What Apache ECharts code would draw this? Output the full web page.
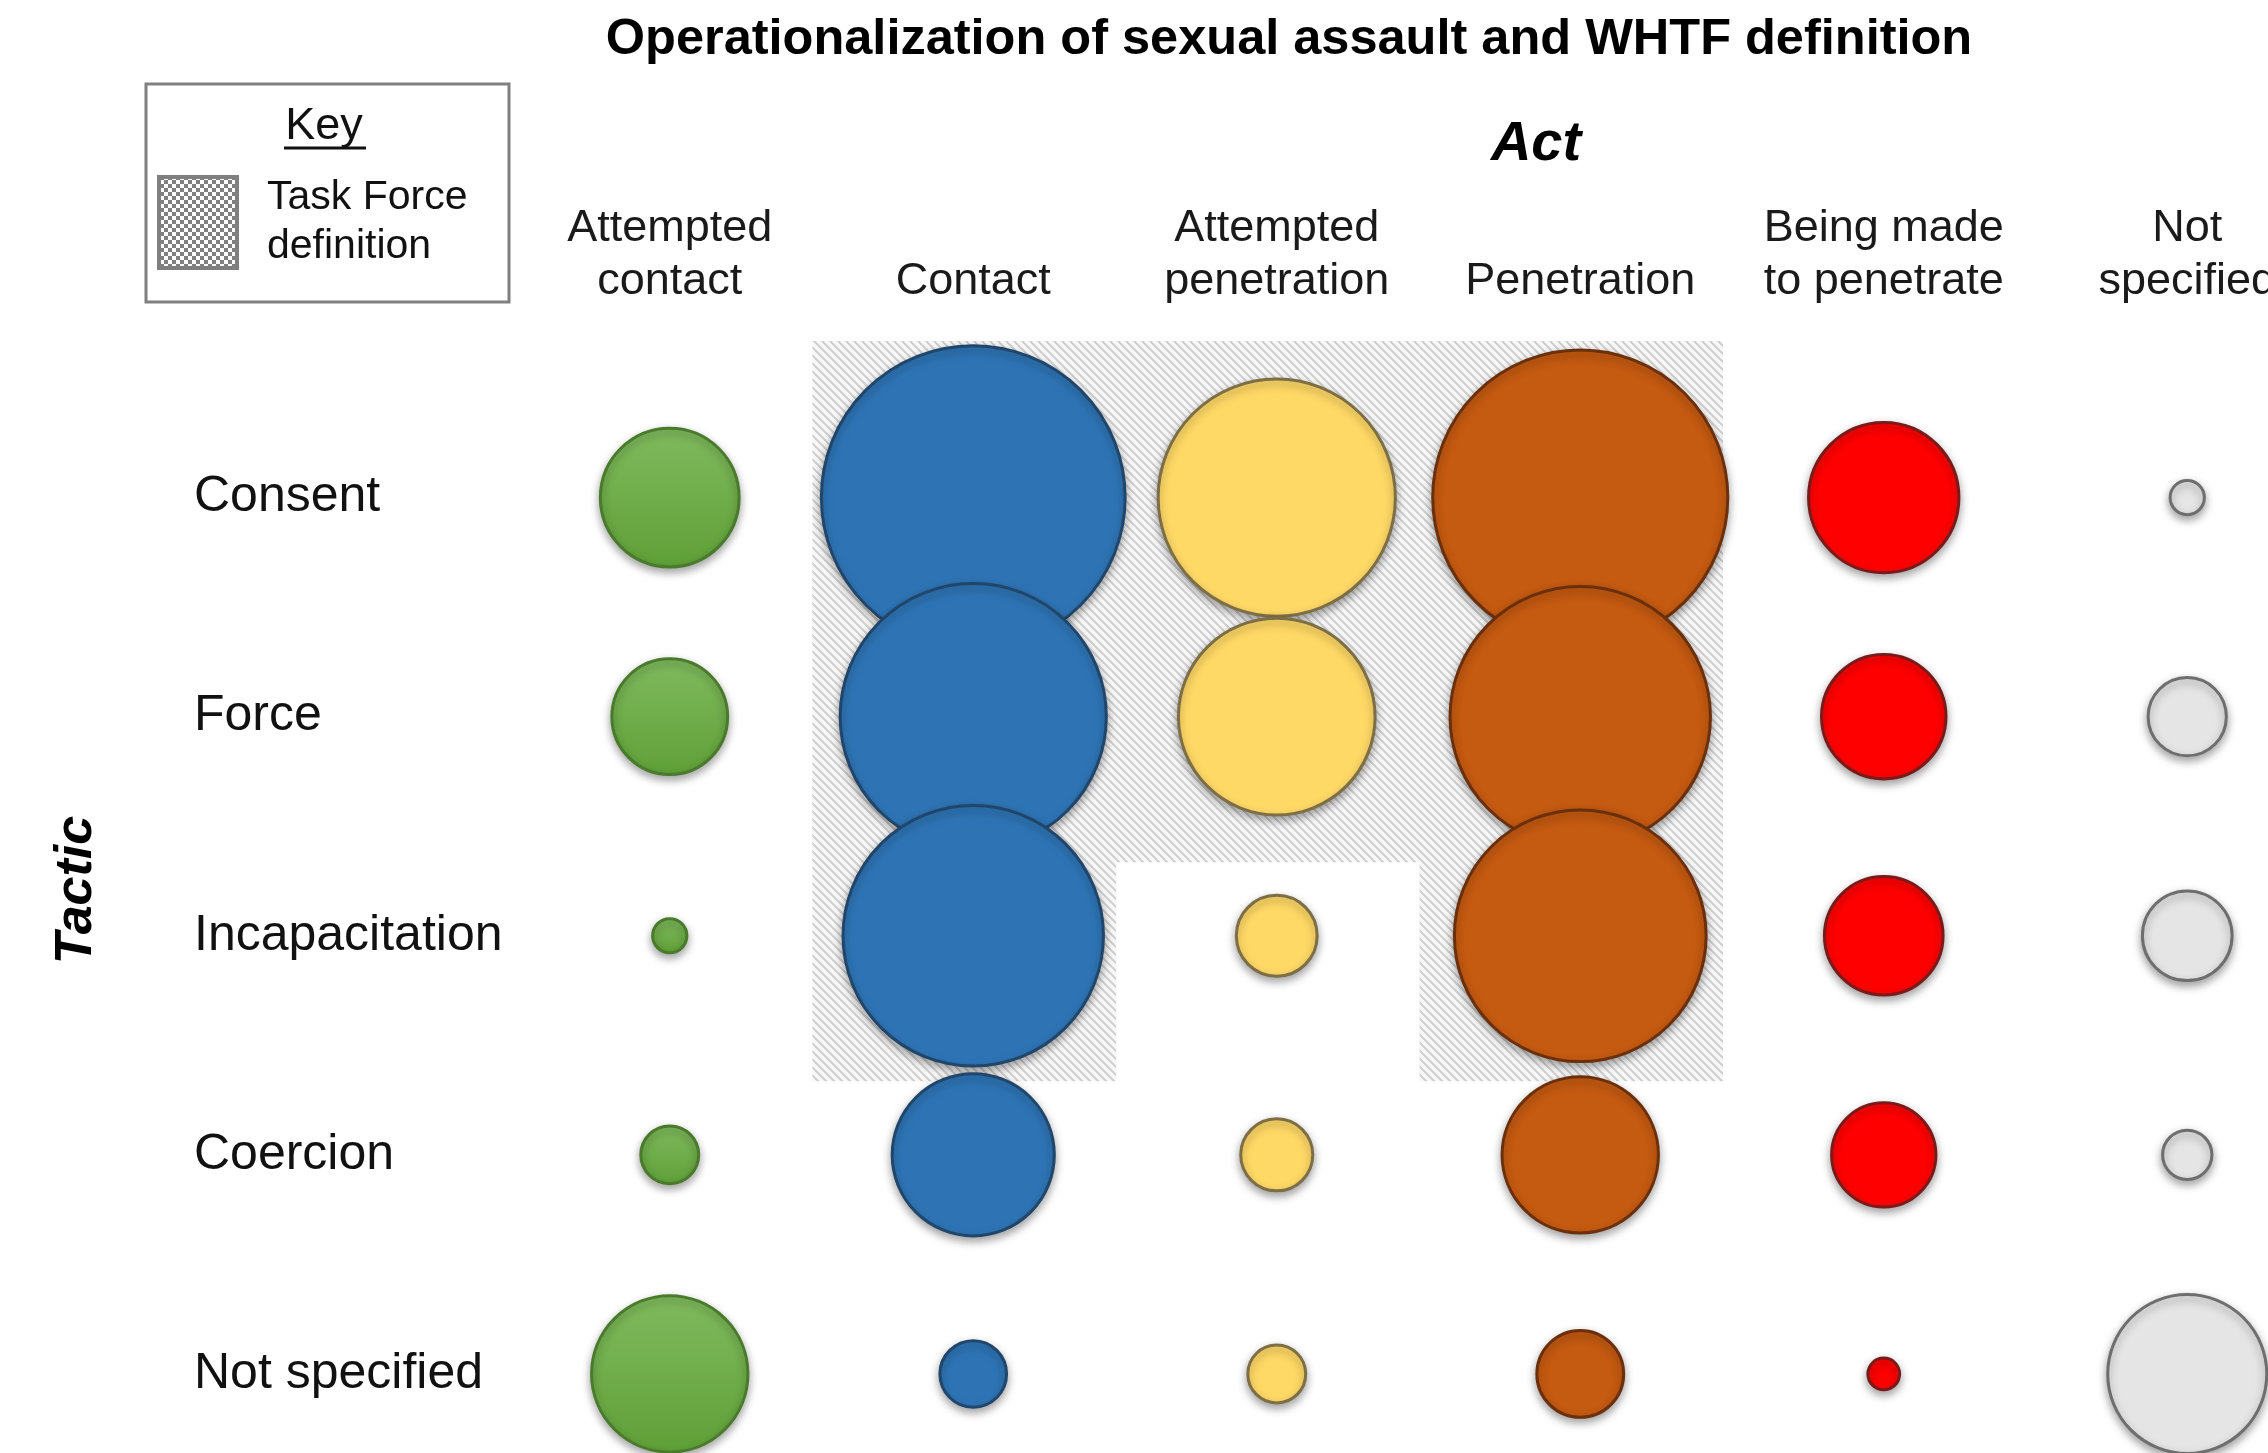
<!DOCTYPE html>
<html><head><meta charset="utf-8">
<script src="https://cdn.jsdelivr.net/npm/echarts@6/dist/echarts.min.js"></script>
<style>html,body{margin:0;padding:0;background:#fff}#c{width:2268px;height:1453px}</style>
</head><body><div id="c"></div>
<script>
// ---- data ----
const acts = ['Attempted\ncontact', 'Contact', 'Attempted\npenetration', 'Penetration', 'Being made\nto penetrate', 'Not\nspecified'];
const tactics = ['Consent', 'Force', 'Incapacitation', 'Coercion', 'Not specified'];
// bubble magnitudes per act column, in tactic order
const attemptedContact     = [230, 160, 14, 40, 292];
const contact              = [1102, 846, 810, 314, 53];
const attemptedPenetration = [672, 462, 78, 62, 40];
const penetration          = [1040, 810, 757, 292, 90];
const beingMadeToPenetrate = [270, 185, 168, 130, 12];
const notSpecifiedAct      = [14, 73, 96, 29, 302];
// Task Force definition cells: [act index, tactic index]
const taskForceCells = [[1,0],[1,1],[1,2],[2,0],[2,1],[3,0],[3,1],[3,2]];

// ---- styles ----
const FONT = '"Liberation Sans", Arial, sans-serif';
const columns = [attemptedContact, contact, attemptedPenetration, penetration, beingMadeToPenetrate, notSpecifiedAct];
const colStyles = [
  {color: {type:'linear', x:0, y:0, x2:0, y2:1, colorStops:[{offset:0,color:'#80bb5e'},{offset:1,color:'#5f9f37'}]}, border:'#4a7a2c'},
  {color:'#2e74b5', border:'#21466b'},
  {color:'#ffd966', border:'#7d6e45'},
  {color:'#c55a11', border:'#6b300b'},
  {color:'#ff0000', border:'#7a1a1a'},
  {color:'#e5e5e5', border:'#6e6e6e'}
];

function makeHatch() {
  const n = 8, c = document.createElement('canvas');
  c.width = n; c.height = n;
  const g = c.getContext('2d'), im = g.createImageData(n, n);
  for (let y = 0; y < n; y++) for (let x = 0; x < n; x++) {
    const on = (((x - y) % n) + n) % n < 3;
    const v = on ? 210 : 247, i = (y * n + x) * 4;
    im.data[i] = v; im.data[i+1] = v; im.data[i+2] = v; im.data[i+3] = 255;
  }
  g.putImageData(im, 0, 0);
  return c;
}
function makeChecker() {
  const n = 8, c = document.createElement('canvas');
  c.width = n; c.height = n;
  const g = c.getContext('2d'), im = g.createImageData(n, n);
  for (let y = 0; y < n; y++) for (let x = 0; x < n; x++) {
    const on = ((x >> 2) + (y >> 2)) % 2 === 0;
    const v = on ? 128 : 255, i = (y * n + x) * 4;
    im.data[i] = v; im.data[i+1] = v; im.data[i+2] = v; im.data[i+3] = 255;
  }
  g.putImageData(im, 0, 0);
  return c;
}
const hatchCanvas = makeHatch();
const checkerCanvas = makeChecker();

const chart = echarts.init(document.getElementById('c'), null, {renderer: 'canvas'});

const bubbleSeries = columns.map((vals, i) => ({
  type: 'scatter',
  name: acts[i],
  z: 3,
  clip: false,
  silent: true,
  data: vals.map((v, j) => [i, j, v]),
  symbolSize: d => Math.sqrt(d[2]) * 9.15,
  itemStyle: {
    color: colStyles[i].color,
    borderColor: colStyles[i].border,
    borderWidth: 3,
    opacity: 1,
    shadowBlur: 8,
    shadowOffsetY: 4,
    shadowColor: 'rgba(0,0,0,0.35)'
  }
}));

const option = {
  animation: false,
  backgroundColor: '#ffffff',
  grid: {left: 518, top: 388, width: 1821, height: 1095.5, containLabel: false, outerBoundsMode: 'none'},
  xAxis: {
    type: 'category', data: acts, position: 'top',
    axisLine: {show: false}, axisTick: {show: false}, splitLine: {show: false},
    axisLabel: {interval: 0, fontSize: 45, lineHeight: 53, margin: 80, color: '#1a1a1a', fontFamily: FONT, hideOverlap: false}
  },
  yAxis: {
    type: 'category', data: tactics, inverse: true,
    axisLine: {show: false}, axisTick: {show: false}, splitLine: {show: false},
    axisLabel: {interval: 0, fontSize: 50, align: 'left', margin: 324, color: '#111', fontFamily: FONT}
  },
  graphic: [
    {type: 'text', x: 1289, y: 40, style: {text: 'Operationalization of sexual assault and WHTF definition', font: 'bold 50.5px ' + FONT, fill: '#000', align: 'center', verticalAlign: 'middle'}},
    {type: 'text', x: 1536, y: 145, style: {text: 'Act', font: 'italic bold 56px ' + FONT, fill: '#000', align: 'center', verticalAlign: 'middle'}},
    {type: 'text', x: 77, y: 890, rotation: Math.PI / 2, style: {text: 'Tactic', font: 'italic bold 52px ' + FONT, fill: '#000', align: 'center', verticalAlign: 'middle'}},
    {type: 'rect', shape: {x: 146, y: 84, width: 363, height: 218}, style: {fill: '#fff', stroke: '#808080', lineWidth: 3}},
    {type: 'text', x: 324, y: 127, style: {text: 'Key', font: '45px ' + FONT, fill: '#111', align: 'center', verticalAlign: 'middle'}},
    {type: 'line', shape: {x1: 284, y1: 148, x2: 366, y2: 148}, style: {stroke: '#111', lineWidth: 3}},
    {type: 'rect', shape: {x: 159, y: 177, width: 78, height: 91}, style: {fill: {image: checkerCanvas, repeat: 'repeat'}, stroke: '#7f7f7f', lineWidth: 4}},
    {type: 'text', x: 267, y: 198, style: {text: 'Task Force', font: '41px ' + FONT, fill: '#111', align: 'left', verticalAlign: 'middle'}},
    {type: 'text', x: 267, y: 247, style: {text: 'definition', font: '41px ' + FONT, fill: '#111', align: 'left', verticalAlign: 'middle'}}
  ],
  series: [
    {
      type: 'custom', z: 1, silent: true, clip: false,
      data: taskForceCells,
      renderItem: (params, api) => {
        const p = api.coord([api.value(0), api.value(1)]);
        const s = api.size([1, 1]);
        return {
          type: 'rect',
          shape: {x: p[0] - s[0] / 2 - 9, y: p[1] - s[1] / 2 - 47, width: s[0], height: s[1] + 47 + 36},
          style: {fill: {image: hatchCanvas, repeat: 'repeat'}}
        };
      }
    }
  ].concat(bubbleSeries)
};
chart.setOption(option);
</script>
</body></html>
